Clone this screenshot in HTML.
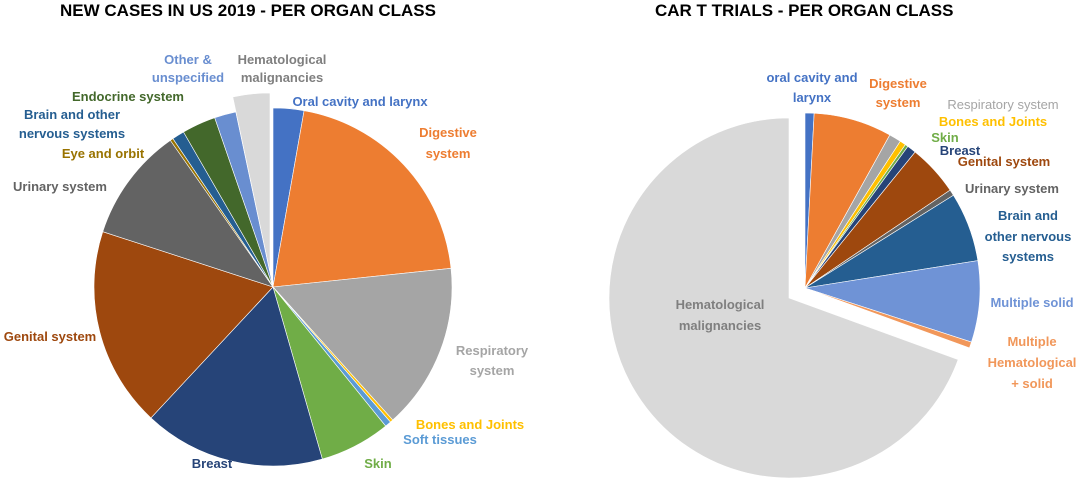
<!DOCTYPE html>
<html><head><meta charset="utf-8"><style>
body{margin:0;width:1080px;height:484px;background:#fff;overflow:hidden;font-family:"Liberation Sans",sans-serif}
svg text{font-family:"Liberation Sans",sans-serif;font-weight:bold;font-size:13px}
</style></head><body>
<svg id="s" width="1080" height="484" xmlns="http://www.w3.org/2000/svg">
<g id="g"></g>
<text x="60" y="16" style="font-size:17px" fill="#000">NEW CASES IN US 2019 - PER ORGAN CLASS</text>
<text x="655" y="16" style="font-size:17px" fill="#000">CAR T TRIALS - PER ORGAN CLASS</text>
<g text-anchor="middle">
<text x="188" y="64" fill="#698ed0">Other &amp;</text>
<text x="188" y="82" fill="#698ed0">unspecified</text>
<text x="282" y="64" fill="#7f7f7f">Hematological</text>
<text x="282" y="82" fill="#7f7f7f">malignancies</text>
<text x="360" y="106" fill="#4472c4">Oral cavity and larynx</text>
<text x="448" y="137" fill="#ed7d31">Digestive</text>
<text x="448" y="158" fill="#ed7d31">system</text>
<text x="128" y="101" fill="#43682b">Endocrine system</text>
<text x="72" y="119" fill="#255e91">Brain and other</text>
<text x="72" y="138" fill="#255e91">nervous systems</text>
<text x="103" y="158" fill="#997300">Eye and orbit</text>
<text x="60" y="191" fill="#636363">Urinary system</text>
<text x="50" y="341" fill="#9e480e">Genital system</text>
<text x="492" y="355" fill="#a5a5a5">Respiratory</text>
<text x="492" y="375" fill="#a5a5a5">system</text>
<text x="470" y="429" fill="#ffc000">Bones and Joints</text>
<text x="440" y="444" fill="#5b9bd5">Soft tissues</text>
<text x="378" y="468" fill="#70ad47">Skin</text>
<text x="212" y="468" fill="#264478">Breast</text>
<text x="812" y="82" fill="#4472c4">oral cavity and</text>
<text x="812" y="102" fill="#4472c4">larynx</text>
<text x="898" y="88" fill="#ed7d31">Digestive</text>
<text x="898" y="107" fill="#ed7d31">system</text>
<text x="1003" y="109" fill="#a5a5a5" style="font-weight:normal">Respiratory system</text>
<text x="993" y="126" fill="#ffc000">Bones and Joints</text>
<text x="945" y="142" fill="#70ad47">Skin</text>
<text x="960" y="155" fill="#264478">Breast</text>
<text x="1004" y="166" fill="#9e480e">Genital system</text>
<text x="1012" y="193" fill="#636363">Urinary system</text>
<text x="1028" y="220" fill="#255e91">Brain and</text>
<text x="1028" y="241" fill="#255e91">other nervous</text>
<text x="1028" y="261" fill="#255e91">systems</text>
<text x="1032" y="307" fill="#6f93d6">Multiple solid</text>
<text x="1032" y="346" fill="#f1975a">Multiple</text>
<text x="1032" y="367" fill="#f1975a">Hematological</text>
<text x="1032" y="388" fill="#f1975a">+ solid</text>
<text x="720" y="309" fill="#7f7f7f">Hematological</text>
<text x="720" y="330" fill="#7f7f7f">malignancies</text>
</g>
</svg>
<script>
function arc(cx,cy,r,a0,a1,col){
 var f=function(a){a=a*Math.PI/180;return [cx+r*Math.sin(a),cy-r*Math.cos(a)];};
 var p=f(a0),q=f(a1),l=(a1-a0)>180?1:0;
 return '<path d="M'+cx+','+cy+'L'+p[0].toFixed(2)+','+p[1].toFixed(2)+'A'+r+','+r+' 0 '+l+' 1 '+q[0].toFixed(2)+','+q[1].toFixed(2)+'Z" fill="'+col+'" stroke="#fff" stroke-width="0.6"/>';
}
var h='';
var L=[[0,10,'#4472c4'],[10,84,'#ed7d31'],[84,138,'#a5a5a5'],[138,139,'#ffc000'],[139,141,'#5b9bd5'],[141,164,'#70ad47'],[164,223,'#264478'],[223,288,'#9e480e'],[288,325,'#636363'],[325,326,'#997300'],[326,330,'#255e91'],[330,341,'#43682b'],[341,348,'#698ed0']];
L.forEach(function(s){h+=arc(273,287,179,s[0],s[1],s[2]);});
h+=arc(270,272,179,348,360,'#d9d9d9');
var R=[[0,3,'#4472c4'],[3,29,'#ed7d31'],[29,33,'#a5a5a5'],[33,35,'#ffc000'],[35,36,'#70ad47'],[36,39,'#264478'],[39,56,'#9e480e'],[56,58,'#636363'],[58,81,'#255e91'],[81,108,'#6f93d6'],[108,110,'#f1975a']];
R.forEach(function(s){h+=arc(805,288,175,s[0],s[1],s[2]);});
h+=arc(789,298,180,110,360,'#d9d9d9');
document.getElementById('g').innerHTML=h;
</script>
</body></html>
